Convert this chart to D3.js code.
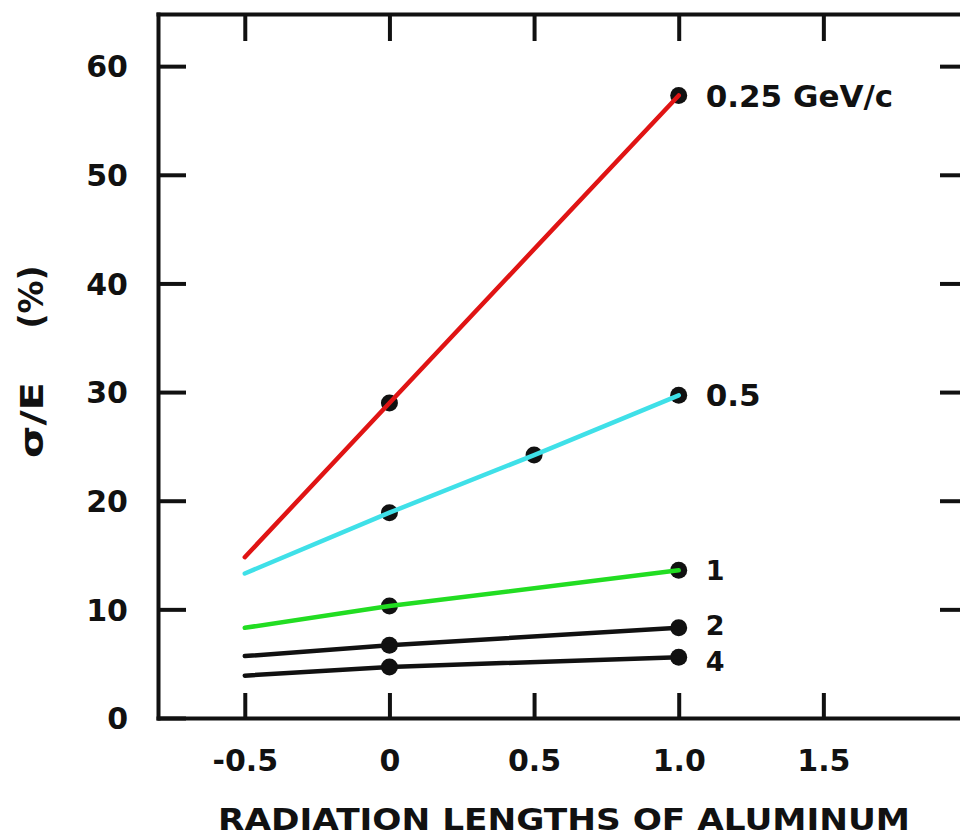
<!DOCTYPE html>
<html>
<head>
  <style>
    body { margin: 0; background: #fff; }
    svg text { font-family: "DejaVu Sans", sans-serif; font-weight: bold; fill: #111; }
    .axis path, .axis line { stroke: #111; stroke-width: 4; }
    .line { fill: none; stroke-width: 4.5; stroke-linecap: round; }
  </style>
</head>
<body>
  <svg id="chart" width="960" height="838"></svg>
  <script src="https://d3js.org/d3.v7.min.js"></script>
  <script>
    // values
    const xTicks = [-0.5, 0, 0.5, 1.0, 1.5];
    const xTickLabels = ["-0.5", "0", "0.5", "1.0", "1.5"];
    const yTicks = [0, 10, 20, 30, 40, 50, 60];
    const momentumLabels = ["0.25 GeV/c", "0.5", "1", "2", "4"];
    // fitted line start at -0.5 radiation lengths
    const fitStartX = -0.5;
    const fitStartY = [14.8, 13.3, 8.3, 5.7, 3.9];
    // measured points
    const measX = [[0, 1.0], [0, 0.5, 1.0], [0, 1.0], [0, 1.0], [0, 1.0]];
    const measY = [[29.0, 57.3], [18.9, 24.2, 29.7], [10.3, 13.6], [6.7, 8.3], [4.7, 5.6]];

    const lineColors = ["#e01414", "#3fe0e8", "#22dd22", "#111", "#111"];
    const labelNudge = [0, 0, 0, -3, 4];

    const margin = {top: 14, left: 158};
    const plotW = 968 - 158;
    const plotH = 718 - 14;

    const svg = d3.select("#chart");
    const g = svg.append("g").attr("transform", `translate(${margin.left},${margin.top})`);

    const x = d3.scaleLinear().domain([-0.8, 2.0]).range([0, plotW]);
    const y = d3.scaleLinear().domain([0, 64.8]).range([plotH, 0]);

    // axes, ticks pointing inward
    g.append("g").attr("class", "axis")
      .call(d3.axisLeft(y).tickValues(yTicks).tickSize(-28).tickSizeOuter(0).tickPadding(30)
        .tickFormat(d3.format("d")))
      .call(s => s.selectAll("text").style("font-size", "30px").attr("dy", "0.36em"));

    g.append("g").attr("class", "axis")
      .attr("transform", `translate(${plotW},0)`)
      .call(d3.axisRight(y).tickValues(yTicks.slice(1)).tickSize(-28).tickSizeOuter(0).tickFormat(""));

    g.append("g").attr("class", "axis")
      .call(d3.axisTop(x).tickValues(xTicks).tickSize(-27).tickSizeOuter(0).tickFormat(""));

    g.append("g").attr("class", "axis")
      .attr("transform", `translate(0,${plotH})`)
      .call(d3.axisBottom(x).tickValues(xTicks).tickSize(-25).tickSizeOuter(0).tickPadding(32)
        .tickFormat((d, i) => xTickLabels[i]))
      .call(s => s.selectAll("text").style("font-size", "30px"));

    g.selectAll(".axis .domain").attr("stroke-linecap", "square");

    // axis titles
    svg.append("text")
      .attr("x", 564).attr("y", 830)
      .attr("text-anchor", "middle")
      .attr("textLength", 692).attr("lengthAdjust", "spacingAndGlyphs")
      .style("font-size", "31px")
      .text("RADIATION LENGTHS OF ALUMINUM");

    svg.append("text")
      .attr("transform", "translate(43,420) rotate(-90)")
      .attr("text-anchor", "middle")
      .attr("textLength", 76).attr("lengthAdjust", "spacingAndGlyphs")
      .style("font-size", "32px")
      .text("σ/E");

    svg.append("text")
      .attr("transform", "translate(43,297) rotate(-90)")
      .attr("text-anchor", "middle")
      .style("font-size", "33px")
      .text("(%)");

    const line = d3.line().x(d => x(d[0])).y(d => y(d[1]));

    momentumLabels.forEach((label, i) => {
      const pts = measX[i].map((mx, j) => [mx, measY[i][j]]);
      // markers first, lines over them
      g.selectAll(null).data(pts).enter().append("circle")
        .attr("cx", d => x(d[0])).attr("cy", d => y(d[1]))
        .attr("r", 8.5).attr("fill", "#111");

      g.append("path")
        .datum([[fitStartX, fitStartY[i]], ...pts])
        .attr("class", "line")
        .style("stroke", lineColors[i])
        .attr("d", line);

      const last = pts[pts.length - 1];
      g.append("text")
        .attr("x", x(last[0]) + 27)
        .attr("y", y(last[1]) + labelNudge[i])
        .attr("dy", "0.36em")
        .style("font-size", i < 2 ? "31px" : "27px")
        .text(label);
    });
  </script>
</body>
</html>
